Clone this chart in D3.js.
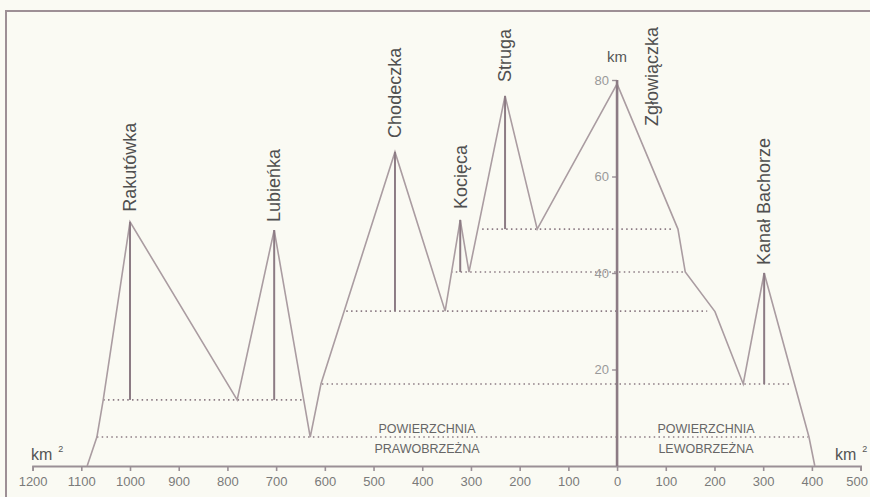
<!DOCTYPE html>
<html><head><meta charset="utf-8">
<script src="https://cdn.jsdelivr.net/npm/d3@7"></script>
<style>
html,body{margin:0;padding:0;background:#fafaf3;}
svg{display:block;}
text{font-family:"Liberation Sans",Arial,Helvetica,sans-serif;}
</style></head>
<body>
<svg id="c" width="870" height="497"></svg>
<script>
// ---- data (area in km², negative = right bank / left side; km along river) ----
const outlineArea = [-1088, -1068, -1055, -1000, -780, -704, -630, -608, -456, -353, -322, -304, -230, -164, 0, 125, 140, 201, 259, 302, 394, 406];
const outlineKm   = [0, 6.0, 13.7, 50.6, 13.7, 48.9, 6.0, 17.0, 65.1, 32.1, 51.0, 40.2, 76.7, 49.1, 79.2, 49.1, 40.2, 32.0, 17.0, 40.0, 6.0, 0];

const tribNames = ["Rakutówka", "Lubieńka", "Chodeczka", "Kocięca", "Struga", "Kanał Bachorze"];
const tribArea  = [-1000, -704, -456, -322, -230, 302];
const tribFromKm = [13.7, 13.7, 32.1, 40.2, 49.1, 17.0];
const tribPeakKm = [50.6, 48.9, 65.1, 51.0, 76.7, 40.0];
const tribGap    = [10, 8, 14, 11, 14, 8];

const mainRiver = "Zgłowiączka";
const mainLengthKm = 80;

const levelKm   = [49.1, 40.2, 32.1, 17.0, 13.7, 6.0];
const levelFrom = [-277, -341, -556, -606, -1055, -1068];
const levelTo   = [113, 140, 185, 359, -645, 392];

const xTicks = [-1200,-1100,-1000,-900,-800,-700,-600,-500,-400,-300,-200,-100,0,100,200,300,400,500];
const yTicks = [20, 40, 60, 80];

const rightBankLabel = ["POWIERZCHNIA", "PRAWOBRZEŻNA"];
const leftBankLabel  = ["POWIERZCHNIA", "LEWOBRZEŻNA"];

// ---- layout ----
const svg = d3.select("#c");
const x = d3.scaleLinear().domain([-1200, 500]).range([32.6, 860.6]);
const y = d3.scaleLinear().domain([0, 80]).range([466, 80]);

const lineCol = "#aa9ca1";
const darkCol = "#8c7b84";

// frame
svg.append("line").attr("x1",6).attr("x2",6).attr("y1",10).attr("y2",497)
  .attr("stroke","#9d8f95").attr("stroke-width",2);
svg.append("line").attr("x1",5).attr("x2",870).attr("y1",11).attr("y2",11)
  .attr("stroke","#9d8f95").attr("stroke-width",2);

// dotted level lines
svg.selectAll("line.lvl").data(levelKm).enter().append("line")
  .attr("class","lvl")
  .attr("x1",(d,i)=>x(levelFrom[i])).attr("x2",(d,i)=>x(levelTo[i]))
  .attr("y1",d=>y(d)).attr("y2",d=>y(d))
  .attr("stroke",darkCol).attr("stroke-width",1.6)
  .attr("stroke-dasharray","1.5 3.3");

// x axis
const xAxis = d3.axisBottom(x).tickValues(xTicks).tickSize(5).tickPadding(6)
  .tickFormat(d=>Math.abs(d));
const gx = svg.append("g").attr("transform",`translate(0,${y(0)})`).call(xAxis);
gx.select(".domain").attr("stroke","#9a9096").attr("stroke-width",1.8);
gx.selectAll(".tick line").attr("stroke","#9a9096").attr("stroke-width",1.6);
gx.selectAll(".tick text").attr("fill","#7a7a7a").attr("font-size",13)
  .attr("font-family","'Liberation Sans',Arial,sans-serif");
gx.selectAll(".tick text").filter(d=>d===xTicks[xTicks.length-1]).attr("dx",-4);

// outline
const pts = outlineArea.map((a,i)=>[x(a), y(outlineKm[i])]);
svg.append("path").attr("d", d3.line()(pts))
  .attr("fill","none").attr("stroke",lineCol).attr("stroke-width",1.6)
  .attr("stroke-linejoin","miter");

// tributary vertical lines
svg.selectAll("line.trib").data(tribArea).enter().append("line")
  .attr("x1",d=>x(d)).attr("x2",d=>x(d))
  .attr("y1",(d,i)=>y(tribFromKm[i])).attr("y2",(d,i)=>y(tribPeakKm[i]))
  .attr("stroke",darkCol).attr("stroke-width",2);

// main river (y axis)
const yAxis = d3.axisLeft(y).tickValues(yTicks).tickSize(5).tickPadding(3);
const gy = svg.append("g").attr("transform",`translate(${x(0)},0)`).call(yAxis);
gy.select(".domain").remove();
gy.selectAll(".tick line").attr("stroke","#9a9096").attr("stroke-width",1.4);
gy.selectAll(".tick text").attr("fill","#999").attr("font-size",13)
  .attr("font-family","'Liberation Sans',Arial,sans-serif");
svg.append("line").attr("x1",x(0)).attr("x2",x(0)).attr("y1",y(0)).attr("y2",y(mainLengthKm))
  .attr("stroke",darkCol).attr("stroke-width",2.6);

svg.append("text").attr("x",x(0)).attr("y",y(mainLengthKm)-18)
  .attr("text-anchor","middle").attr("font-size",15).attr("fill","#555").text("km");

// tributary names
svg.selectAll("text.tn").data(tribNames).enter().append("text")
  .attr("transform",(d,i)=>`translate(${x(tribArea[i])},${y(tribPeakKm[i])-tribGap[i]}) rotate(-90)`)
  .attr("dy","0.35em").attr("font-size",18).attr("fill","#4f4f4f").text(d=>d);

svg.append("text")
  .attr("transform",`translate(${x(0)+35},${y(mainLengthKm)+46}) rotate(-90)`)
  .attr("dy","0.35em").attr("font-size",18).attr("fill","#4f4f4f").text(mainRiver);

// bank area labels
function bankLabel(lbl, cx){
  svg.append("text").attr("x",cx).attr("y",y(levelKm[5])-4).attr("text-anchor","middle")
    .attr("font-size",12.5).attr("fill","#666").text(lbl[0]);
  svg.append("text").attr("x",cx).attr("y",y(levelKm[5])+16).attr("text-anchor","middle")
    .attr("font-size",12.5).attr("fill","#666").text(lbl[1]);
}
bankLabel(rightBankLabel, 427);
bankLabel(leftBankLabel, 706);

// km² labels
function kmSq(xp){
  const t = svg.append("text").attr("x",xp).attr("y",y(0)-6).attr("font-size",16).attr("fill","#555");
  t.append("tspan").text("km");
  t.append("tspan").attr("dx",6).attr("dy",-8).attr("font-size",9).text("2");
}
kmSq(31);
kmSq(835);
</script>
</body></html>
